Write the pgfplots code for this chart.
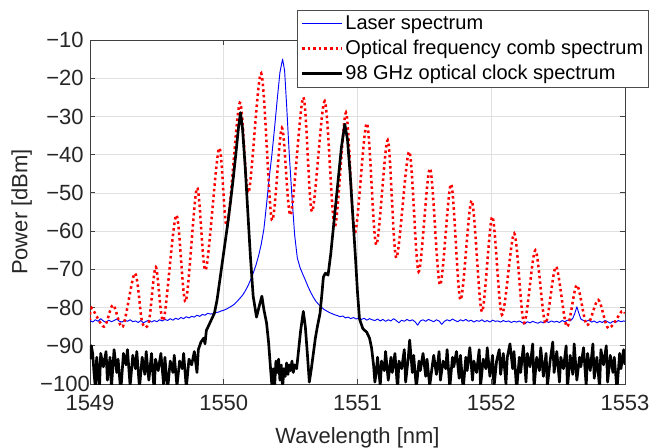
\documentclass[border=0pt]{standalone}
\usepackage{fontspec}
\setmainfont{Liberation Sans}
\usepackage{pgfplots}
\pgfplotsset{compat=1.18}
\begin{document}
\begin{tikzpicture}
\begin{axis}[
  scale only axis, width=401.25pt, height=258pt,
  xmin=1549, xmax=1553, ymin=-100, ymax=-10,
  xtick={1549,1550,1551,1552,1553},
  xticklabels={1549,1550,1551,1552,1553},
  ytick={-100,-90,-80,-70,-60,-50,-40,-30,-20,-10},
  yticklabels={−100,−90,−80,−70,−60,−50,−40,−30,−20,−10},
  /pgf/number format/assume math mode=true,
  tick align=inside, major tick length=4pt,
  grid=major, major grid style={black!12, line width=0.5pt},
  axis line style={black!75, line width=0.6pt},
  tick style={black!75, line width=0.6pt},
  ticklabel style={font=\fontsize{16.5}{19}\selectfont, text=black!85},
  xticklabel style={yshift=-5pt},
  yticklabel style={anchor=center, xshift=-18.75pt},
  xlabel={Wavelength [nm]}, ylabel={Power [dBm]},
  label style={font=\fontsize{16.5}{19}\selectfont, text=black!85},
  xlabel style={at={(axis description cs:0.5,-0.1737)}, anchor=base},
  ylabel style={at={(axis description cs:-0.117,0.5)}, anchor=base},
  legend cell align=left,
  legend image code/.code={\draw[#1] (0pt,0pt) -- (30pt,0pt);},
  legend style={at={(axis description cs:0.3869,1.0872)}, anchor=north west,
    draw=black!70, line width=0.6pt, fill=white,
    font=\fontsize{15}{18}\selectfont,
    inner xsep=2.5pt, inner ysep=2pt, row sep=2.5pt,
    nodes={inner xsep=1.5pt, inner ysep=2pt, text depth=0.15em}},
]
\addplot[blue, line width=0.7pt, line join=round] coordinates {
(1549.00,-83.4) (1549.02,-83.8) (1549.04,-83.2) (1549.06,-83.6) (1549.08,-82.9) (1549.10,-83.5)
(1549.12,-83.9) (1549.14,-83.3) (1549.16,-83.7) (1549.18,-83.4) (1549.20,-83.0) (1549.22,-83.6)
(1549.24,-83.8) (1549.26,-83.3) (1549.28,-83.6) (1549.30,-83.2) (1549.32,-83.7) (1549.34,-83.5)
(1549.36,-83.9) (1549.38,-83.4) (1549.40,-84.0) (1549.42,-83.6) (1549.44,-83.3) (1549.46,-83.8)
(1549.48,-83.4) (1549.50,-83.7) (1549.52,-83.2) (1549.54,-83.5) (1549.56,-83.1) (1549.58,-83.4)
(1549.60,-82.9) (1549.62,-83.3) (1549.64,-82.8) (1549.66,-83.1) (1549.68,-82.6) (1549.70,-82.9)
(1549.72,-82.4) (1549.74,-82.7) (1549.76,-82.3) (1549.78,-82.5) (1549.80,-82.0) (1549.82,-82.3)
(1549.84,-81.8) (1549.86,-82.0) (1549.88,-81.5) (1549.90,-81.7) (1549.92,-81.6) (1549.94,-81.3)
(1549.96,-81.2) (1549.98,-80.9) (1550.00,-80.7) (1550.02,-80.4) (1550.04,-80.0) (1550.06,-79.6)
(1550.08,-79.1) (1550.10,-78.4) (1550.12,-77.6) (1550.14,-76.8) (1550.16,-75.7) (1550.18,-74.4)
(1550.20,-72.8) (1550.22,-71.0) (1550.24,-69.0) (1550.26,-66.5) (1550.28,-63.5) (1550.30,-59.5)
(1550.32,-53.0) (1550.34,-46.0) (1550.36,-40.0) (1550.38,-33.0) (1550.40,-25.5) (1550.42,-18.5)
(1550.44,-15.0) (1550.455,-18.0) (1550.47,-27.0) (1550.49,-40.0) (1550.51,-51.0) (1550.53,-61.0)
(1550.55,-67.0) (1550.57,-69.5) (1550.59,-71.2) (1550.61,-72.8) (1550.63,-74.5) (1550.65,-76.0)
(1550.67,-77.3) (1550.69,-78.4) (1550.71,-79.2) (1550.73,-79.9) (1550.75,-80.5) (1550.77,-80.9)
(1550.79,-81.3) (1550.81,-81.6) (1550.83,-81.9) (1550.85,-82.1) (1550.87,-82.4) (1550.89,-82.2)
(1550.91,-82.7) (1550.93,-82.5) (1550.95,-82.9) (1550.97,-82.6) (1550.99,-83.0) (1551.01,-82.7)
(1551.03,-83.1) (1551.05,-82.8) (1551.07,-83.3) (1551.09,-82.9) (1551.11,-83.2) (1551.13,-83.4)
(1551.15,-83.0) (1551.17,-83.5) (1551.19,-83.1) (1551.21,-83.6) (1551.23,-83.2) (1551.25,-83.5)
(1551.27,-82.9) (1551.29,-83.4) (1551.31,-84.0) (1551.33,-83.3) (1551.35,-83.6) (1551.37,-83.1)
(1551.39,-83.5) (1551.41,-83.2) (1551.43,-83.7) (1551.45,-84.6) (1551.47,-83.5) (1551.49,-83.2)
(1551.51,-83.6) (1551.53,-83.1) (1551.55,-83.4) (1551.57,-83.7) (1551.59,-83.2) (1551.61,-83.5)
(1551.63,-84.4) (1551.65,-83.6) (1551.67,-83.2) (1551.69,-83.5) (1551.71,-83.0) (1551.73,-83.4)
(1551.75,-83.7) (1551.77,-83.2) (1551.79,-83.5) (1551.81,-83.1) (1551.83,-83.6) (1551.85,-83.3)
(1551.87,-83.8) (1551.89,-83.4) (1551.91,-83.6) (1551.93,-83.2) (1551.95,-83.7) (1551.97,-83.4)
(1551.99,-83.8) (1552.01,-83.3) (1552.03,-83.6) (1552.05,-83.5) (1552.07,-83.8) (1552.09,-83.4)
(1552.11,-83.7) (1552.13,-83.5) (1552.15,-83.9) (1552.17,-83.6) (1552.19,-83.8) (1552.21,-83.5)
(1552.23,-83.9) (1552.25,-84.3) (1552.27,-83.7) (1552.29,-84.0) (1552.31,-83.6) (1552.33,-83.9)
(1552.35,-84.1) (1552.37,-83.7) (1552.39,-84.0) (1552.41,-83.6) (1552.43,-83.9) (1552.45,-83.5)
(1552.47,-83.8) (1552.49,-83.6) (1552.51,-83.9) (1552.53,-83.4) (1552.55,-83.7) (1552.57,-83.3)
(1552.59,-83.5) (1552.61,-82.8) (1552.625,-81.5) (1552.64,-79.8) (1552.655,-81.5) (1552.67,-83.0)
(1552.69,-83.4) (1552.71,-83.6) (1552.73,-83.3) (1552.75,-83.8) (1552.77,-83.5) (1552.79,-84.0)
(1552.81,-83.6) (1552.83,-83.9) (1552.85,-83.4) (1552.87,-83.7) (1552.89,-84.1) (1552.91,-83.6)
(1552.93,-83.9) (1552.95,-83.4) (1552.97,-83.7) (1552.99,-83.5) (1553.00,-83.6)
};
\addlegendentry{Laser spectrum}
\addplot[red, line width=1.9pt, dash pattern=on 1.9pt off 2.3pt, smooth] coordinates {
(1549.00,-83.3) (1549.012,-80.1) (1549.105,-85) (1549.172,-79.3) (1549.245,-85) (1549.336,-71)
(1549.39,-83.8) (1549.44,-83.8) (1549.492,-69.4) (1549.55,-83.3) (1549.645,-55.8) (1549.715,-78.5)
(1549.80,-48.7) (1549.865,-70.2) (1549.965,-38.3) (1550.025,-58.8) (1550.12,-26.4) (1550.185,-50)
(1550.28,-18.7) (1550.36,-57.1) (1550.435,-33.0) (1550.50,-55.8) (1550.595,-25.0) (1550.66,-54.9)
(1550.755,-26.0) (1550.83,-58.8) (1550.914,-29.0) (1550.98,-60.5) (1551.07,-31.8) (1551.14,-63.6)
(1551.226,-36.2) (1551.29,-67) (1551.387,-39.2) (1551.457,-70.6) (1551.542,-43.6) (1551.617,-74.1)
(1551.70,-47.7) (1551.77,-78) (1551.854,-52.0) (1551.93,-81.1) (1552.008,-56.2) (1552.08,-81.9)
(1552.172,-60.6) (1552.245,-84) (1552.33,-65) (1552.405,-84.1) (1552.484,-69.3) (1552.565,-85)
(1552.64,-74.1) (1552.715,-84.6) (1552.80,-78) (1552.875,-85.4) (1552.975,-81) (1553.0,-81.5)
};
\addlegendentry{Optical frequency comb spectrum}
\addplot[black, line width=2pt, line join=round] coordinates {
(1549.00,-93.5) (1549.01,-90) (1549.02,-92) (1549.03,-97) (1549.04,-101) (1549.05,-93)
(1549.06,-96) (1549.07,-102) (1549.08,-92) (1549.10,-95.5) (1549.12,-91.5) (1549.13,-99)
(1549.15,-93) (1549.16,-101) (1549.18,-91) (1549.20,-97) (1549.21,-93.5) (1549.23,-102)
(1549.25,-92) (1549.27,-95) (1549.28,-91) (1549.30,-100.5) (1549.32,-92.5) (1549.34,-96)
(1549.35,-91.5) (1549.37,-101) (1549.39,-93) (1549.41,-97.5) (1549.42,-91.5) (1549.44,-99)
(1549.46,-92) (1549.48,-102) (1549.49,-93.5) (1549.51,-96.5) (1549.53,-92) (1549.55,-100)
(1549.56,-93) (1549.58,-101.5) (1549.60,-94) (1549.62,-97) (1549.63,-92.5) (1549.65,-100.5)
(1549.67,-94) (1549.69,-96) (1549.70,-92) (1549.72,-101) (1549.74,-93.5) (1549.76,-95)
(1549.78,-91.5) (1549.80,-97) (1549.81,-91) (1549.83,-89) (1549.85,-88) (1549.86,-89.5)
(1549.87,-86) (1549.89,-84.5) (1549.91,-83) (1549.93,-81.5) (1549.95,-78) (1549.97,-73)
(1549.99,-68) (1550.01,-63) (1550.03,-58) (1550.05,-52.5) (1550.07,-46.5) (1550.09,-40)
(1550.11,-33) (1550.125,-29) (1550.14,-33) (1550.16,-43) (1550.18,-55) (1550.20,-67)
(1550.22,-77) (1550.245,-82.5) (1550.27,-79) (1550.285,-77) (1550.30,-80.5) (1550.32,-84)
(1550.335,-89) (1550.35,-96) (1550.36,-100.5) (1550.37,-96) (1550.38,-101) (1550.39,-94)
(1550.40,-97) (1550.41,-93.5) (1550.42,-99) (1550.43,-95) (1550.44,-101) (1550.45,-96)
(1550.46,-98) (1550.47,-94.5) (1550.48,-97.5) (1550.49,-95) (1550.50,-96.5) (1550.51,-94)
(1550.52,-97) (1550.53,-95) (1550.545,-96) (1550.56,-91) (1550.575,-86) (1550.595,-81)
(1550.61,-85) (1550.625,-92) (1550.64,-99.5) (1550.655,-96) (1550.67,-92) (1550.685,-88)
(1550.70,-85) (1550.72,-81.5) (1550.735,-76) (1550.745,-72) (1550.76,-71) (1550.78,-71.5)
(1550.80,-66) (1550.82,-59) (1550.84,-52) (1550.86,-45) (1550.88,-38) (1550.905,-32)
(1550.925,-36) (1550.945,-45) (1550.965,-56) (1550.985,-67) (1551.00,-76) (1551.015,-83)
(1551.04,-85.5) (1551.07,-86.5) (1551.09,-88) (1551.105,-90.5) (1551.12,-95) (1551.13,-99.5)
(1551.14,-97) (1551.15,-93) (1551.17,-100.5) (1551.18,-94) (1551.20,-96.5) (1551.21,-91.5)
(1551.23,-99) (1551.25,-93) (1551.26,-97) (1551.28,-92) (1551.30,-101.5) (1551.31,-94)
(1551.33,-96) (1551.35,-91) (1551.36,-99.5) (1551.38,-93) (1551.39,-88.5) (1551.41,-97)
(1551.42,-92.5) (1551.44,-101) (1551.46,-94) (1551.47,-96.5) (1551.49,-92) (1551.51,-98)
(1551.52,-93.5) (1551.54,-100.5) (1551.56,-95) (1551.57,-92.5) (1551.59,-97.5) (1551.61,-91.5)
(1551.62,-99) (1551.64,-94) (1551.66,-96) (1551.67,-91) (1551.69,-101) (1551.71,-93)
(1551.72,-95.5) (1551.74,-91.5) (1551.76,-98.5) (1551.77,-92.5) (1551.79,-101.5) (1551.81,-93)
(1551.82,-96.5) (1551.84,-90.5) (1551.86,-99) (1551.87,-94) (1551.89,-97) (1551.91,-91)
(1551.92,-100.5) (1551.94,-93.5) (1551.96,-96) (1551.97,-90.5) (1551.99,-98) (1552.01,-92.5)
(1552.02,-101) (1552.04,-94) (1552.06,-91) (1552.07,-97.5) (1552.09,-92) (1552.11,-100)
(1552.12,-93) (1552.14,-89.5) (1552.16,-96) (1552.17,-91.5) (1552.19,-101.5) (1552.21,-93)
(1552.22,-97) (1552.24,-90) (1552.26,-99.5) (1552.27,-92) (1552.29,-95.5) (1552.31,-89.5)
(1552.32,-101) (1552.34,-93) (1552.36,-96.5) (1552.37,-90.5) (1552.39,-98) (1552.41,-92)
(1552.42,-100.5) (1552.44,-94) (1552.46,-89) (1552.47,-97) (1552.49,-91.5) (1552.51,-99.5)
(1552.52,-93) (1552.54,-96) (1552.56,-90) (1552.57,-101) (1552.59,-92.5) (1552.61,-97.5)
(1552.62,-89.5) (1552.64,-99) (1552.66,-93) (1552.67,-95.5) (1552.69,-90.5) (1552.71,-100.5)
(1552.72,-92) (1552.74,-96.5) (1552.76,-89.5) (1552.77,-98.5) (1552.79,-93) (1552.81,-101)
(1552.82,-91) (1552.84,-95) (1552.86,-90) (1552.87,-99.5) (1552.89,-92.5) (1552.91,-97)
(1552.92,-93) (1552.94,-101.5) (1552.96,-92) (1552.97,-96) (1552.99,-91) (1553.00,-95)
};
\addlegendentry{98 GHz optical clock spectrum}
\end{axis}
\pgfresetboundingbox
\useasboundingbox (-67.5pt,-47.25pt) rectangle (423pt,288pt);
\end{tikzpicture}
\end{document}
